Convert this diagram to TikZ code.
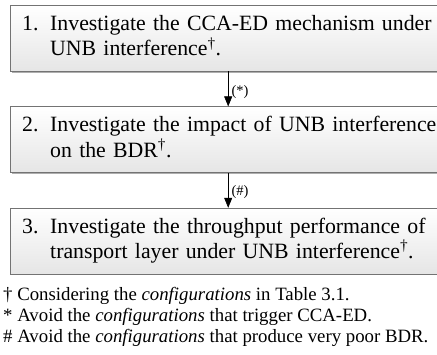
\documentclass[tikz,border=0pt]{standalone}
\usepackage{fontspec}
\setmainfont{Liberation Serif}
\usetikzlibrary{arrows.meta,shadows,positioning}
\tikzset{>={Triangle[length=10pt,width=8pt]}}
\tikzset{%
    stepbox/.style={%
        draw=black!55, top color=white, bottom color=black!10,
        drop shadow={shadow xshift=1.5pt, shadow yshift=-1.5pt, fill=black!45, opacity=0.7},
        minimum width=436pt, minimum height=66pt, text width=412pt,
        inner xsep=12pt, inner ysep=0pt,
        font=\fontsize{21.8}{24}\selectfont
    },
    steplabel/.style={right, font=\fontsize{14.5}{16}\selectfont, inner sep=3pt}
}
\newcommand{\stepitem}[3]{%
    \begin{tabular}{@{}p{28pt}@{}l@{}}#1 & #2\\ & #3\end{tabular}}

\begin{document}
\begin{tikzpicture}[x=1pt,y=-1pt,node distance=35pt]
\useasboundingbox (0,0) rectangle (437,355);

\node[stepbox, anchor=north west] (s1) at (10,5) {\stepitem{1.}{Investigate the CCA-ED mechanism under}{UNB interference\textsuperscript{\dag}.}};
\node[stepbox, below=of s1] (s2) {\stepitem{2.}{Investigate the impact of UNB interference}{on the BDR\textsuperscript{\dag}.}};
\node[stepbox, below=of s2] (s3) {\stepitem{3.}{Investigate the throughput performance of}{transport layer under UNB interference\textsuperscript{\dag}.}};

\draw[->,semithick] (s1) -- (s2) node[pos=0.6,steplabel] {(*)};
\draw[->,semithick] (s2) -- (s3) node[pos=0.55,steplabel] {(\#)};

% notes under the steps
\node[anchor=north west, align=left, inner sep=0pt, font=\fontsize{18.8}{21}\selectfont] (notes) at (3,287)
    {\dag{} Considering the \emph{configurations} in Table 3.1.\\
     * Avoid the \emph{configurations} that trigger CCA-ED.\\
     \# Avoid the \emph{configurations} that produce very poor BDR.};
\end{tikzpicture}
\end{document}
